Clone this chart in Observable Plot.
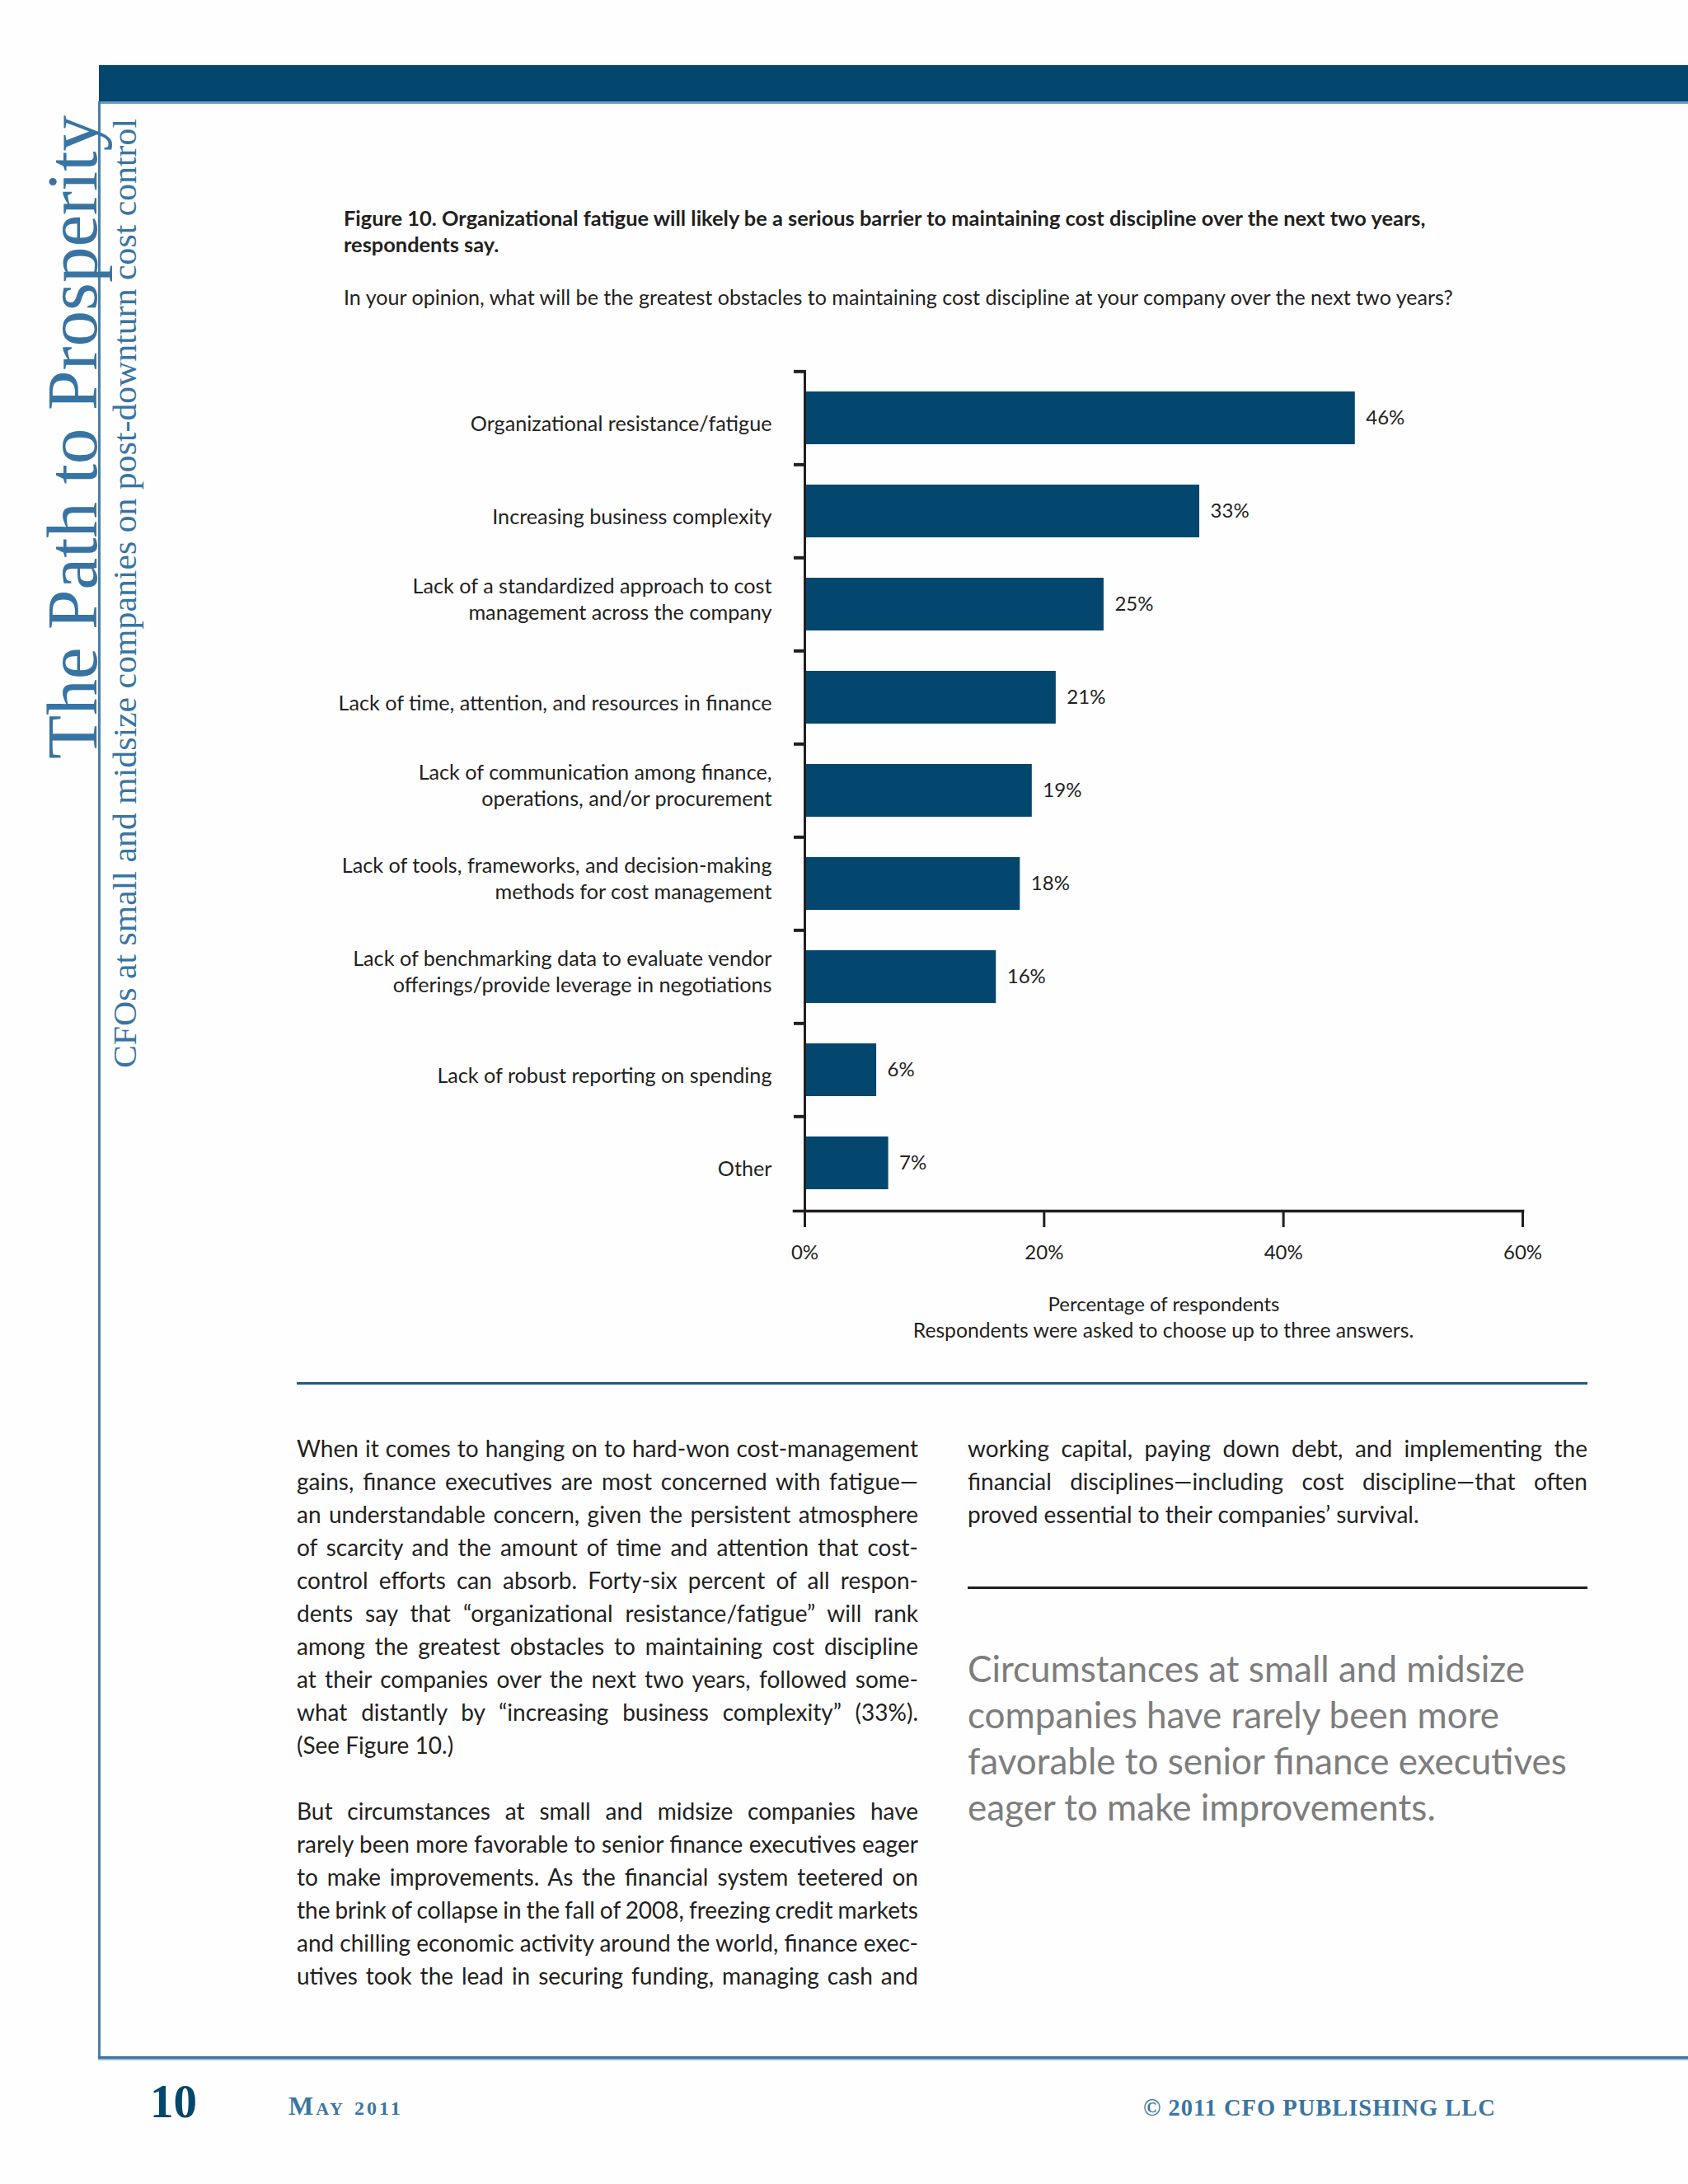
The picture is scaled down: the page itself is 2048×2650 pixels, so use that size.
<!DOCTYPE html>
<html>
<head>
<meta charset="utf-8">
<script src="https://cdn.jsdelivr.net/npm/d3@7"></script>
<script src="https://cdn.jsdelivr.net/npm/@observablehq/plot@0.6"></script>
<style>
  html, body { margin: 0; padding: 0; background: #fefefe; }
  body { width: 2048px; height: 2650px; position: relative; overflow: hidden; font-family: Lato, "Open Sans", sans-serif; color: #231f20; }
  .abs { position: absolute; }
  .line { white-space: pre; }
  #title { left: 417px; top: 248px; font-size: 25.4px; font-weight: bold; line-height: 32px; }
  #question { left: 417px; top: 344px; font-size: 25.1px; line-height: 32px; }
  #chart { left: 360px; top: 420px; }
  #note { left: 976px; width: 871px; top: 1598px; font-size: 24.7px; line-height: 32px; text-align: center; }
  #col1 { left: 360px; top: 1737px; width: 754px; font-size: 28px; line-height: 40px; }
  #col2 { left: 1174px; top: 1737px; width: 752px; font-size: 28px; line-height: 40px; }
  #quote { left: 1174px; top: 1996px; font-size: 44px; line-height: 56px; color: #7d7d7d; }
  .footer { font-family: "Liberation Serif", serif; font-weight: bold; white-space: nowrap; }
</style>
</head>
<body>
<!-- page frame -->
<div class="abs" style="left:120px;top:79px;width:1928px;height:44px;background:#03466e"></div>
<div class="abs" style="left:120px;top:123px;width:1928px;height:3px;background:#6b9cc3"></div>
<div class="abs" style="left:119px;top:123px;width:3px;height:2376px;background:#4a7fa8"></div>
<div class="abs" style="left:119px;top:2495px;width:1929px;height:3px;background:#3f749e"></div>
<div class="abs" style="left:119px;top:2498px;width:1929px;height:2px;background:#9dbdd6"></div>
<div class="abs" style="left:360px;top:1677px;width:1566px;height:3px;background:#1f5a85"></div>
<div class="abs" style="left:1174px;top:1925px;width:752px;height:3px;background:#231f20"></div>

<svg class="abs" style="left:0;top:0" width="300" height="1400">
  <text transform="translate(117,921) rotate(-90)" font-family="Liberation Serif, serif" font-size="86" fill="#3874a3" textLength="781" lengthAdjust="spacingAndGlyphs">The Path to Prosperity</text>
  <text transform="translate(165,1296) rotate(-90)" font-family="Liberation Serif, serif" font-size="41" fill="#3874a3" textLength="1152" lengthAdjust="spacingAndGlyphs">CFOs at small and midsize companies on post-downturn cost control</text>
</svg>

<div id="title" class="abs"></div>
<div id="question" class="abs"></div>
<div id="chart" class="abs"></div>
<div id="note" class="abs">Respondents were asked to choose up to three answers.</div>
<div id="col1" class="abs"></div>
<div id="col2" class="abs"></div>
<div id="quote" class="abs"></div>

<div class="abs footer" style="left:182px;top:2518px;font-size:57px;line-height:64px;color:#03466e">10</div>
<div class="abs footer" style="left:350px;top:2535px;font-size:32px;line-height:40px;color:#3a75a2;font-variant:small-caps;letter-spacing:3px">May <span style="font-size:24px">2011</span></div>
<div class="abs footer" style="left:1387px;top:2540px;font-size:28.5px;line-height:36px;color:#3a75a2;letter-spacing:1px">© 2011 CFO PUBLISHING LLC</div>

<script>
// ---- chart data ----
const categories = [
  "Organizational resistance/fatigue",
  "Increasing business complexity",
  "Lack of a standardized approach to cost\nmanagement across the company",
  "Lack of time, attention, and resources in finance",
  "Lack of communication among finance,\noperations, and/or procurement",
  "Lack of tools, frameworks, and decision-making\nmethods for cost management",
  "Lack of benchmarking data to evaluate vendor\nofferings/provide leverage in negotiations",
  "Lack of robust reporting on spending",
  "Other"
];
const values = [46, 33, 25, 21, 19, 18, 16, 6, 7];
const xTicks = [0, 20, 40, 60];
const xLabel = "Percentage of respondents";

// ---- page text ----
const titleLines = [
  "Figure 10. Organizational fatigue will likely be a serious barrier to maintaining cost discipline over the next two years,",
  "respondents say."
];
const questionText = "In your opinion, what will be the greatest obstacles to maintaining cost discipline at your company over the next two years?";
const col1Lines = [
  ["When it comes to hanging on to hard-won cost-management", 1],
  ["gains, finance executives are most concerned with fatigue\u2014", 1],
  ["an understandable concern, given the persistent atmosphere", 1],
  ["of scarcity and the amount of time and attention that cost-", 1],
  ["control efforts can absorb. Forty-six percent of all respon-", 1],
  ["dents say that \u201corganizational resistance/fatigue\u201d will rank", 1],
  ["among the greatest obstacles to maintaining cost discipline", 1],
  ["at their companies over the next two years, followed some-", 1],
  ["what distantly by \u201cincreasing business complexity\u201d (33%).", 1],
  ["(See Figure 10.)", 0],
  ["", 0],
  ["But circumstances at small and midsize companies have", 1],
  ["rarely been more favorable to senior finance executives eager", 1],
  ["to make improvements. As the financial system teetered on", 1],
  ["the brink of collapse in the fall of 2008, freezing credit markets", 1],
  ["and chilling economic activity around the world, finance exec-", 1],
  ["utives took the lead in securing funding, managing cash and", 1]
];
const col2Lines = [
  ["working capital, paying down debt, and implementing the", 1],
  ["financial disciplines\u2014including cost discipline\u2014that often", 1],
  ["proved essential to their companies\u2019 survival.", 0]
];
const quoteLines = [
  "Circumstances at small and midsize",
  "companies have rarely been more",
  "favorable to senior finance executives",
  "eager to make improvements."
];

function fillLines(el, lines, width) {
  lines.forEach(([t, j]) => {
    const d = document.createElement("div");
    d.className = "line";
    const s = document.createElement("span");
    s.textContent = t || "\u00a0";
    d.appendChild(s);
    el.appendChild(d);
    if (j && width) {
      const w = s.getBoundingClientRect().width;
      const n = (t.match(/ /g) || []).length;
      if (n) s.style.wordSpacing = ((width - w) / n) + "px";
    }
  });
}
fillLines(document.getElementById("title"), titleLines.map(t => [t, 0]));
fillLines(document.getElementById("question"), [[questionText, 0]]);
fillLines(document.getElementById("col1"), col1Lines, 754);
fillLines(document.getElementById("col2"), col2Lines, 752);
fillLines(document.getElementById("quote"), quoteLines.map(t => [t, 0]));

// ---- chart ----
const data = categories.map((label, i) => ({label, value: values[i]}));
const W = 1566, H = 1180, mT = 29, mB = 131, mL = 616, mR = 79;
const pad = 0.435;
const step = (H - mT - mB) / categories.length;
const barColor = "#03466e";
const ink = "#231f20";
const isMulti = d => d.includes("\n");

const chart = Plot.plot({
  width: W,
  height: H,
  marginTop: mT,
  marginBottom: mB,
  marginLeft: mL,
  marginRight: mR,
  style: {fontFamily: "Lato, 'Open Sans', sans-serif", fontSize: "24px", color: ink, background: "transparent"},
  x: {domain: [0, 60], ticks: xTicks},
  y: {domain: categories, paddingInner: pad, paddingOuter: pad / 2},
  marks: [
    Plot.barX(data, {x: "value", y: "label", fill: barColor}),
    Plot.text(data, {x: "value", y: "label", text: d => `${d.value}%`, textAnchor: "start", dx: 13, fontSize: 24}),
    Plot.ruleX([0], {strokeWidth: 3, stroke: ink}),
    Plot.frame({anchor: "bottom", insetLeft: -13, strokeWidth: 3.5, stroke: ink}),
    // category labels: single-line and two-line labels sit slightly differently
    Plot.axisY({tickSize: 0, tickPadding: 40, label: null, fontSize: 25.2, dy: 7,
                tickFormat: d => isMulti(d) ? "" : d}),
    Plot.axisY({tickSize: 0, tickPadding: 40, label: null, fontSize: 25.2, dy: -8, lineHeight: 32 / 25.2,
                tickFormat: d => isMulti(d) ? d : ""}),
    // tick marks at the category boundaries
    Plot.axisY({tickSize: 13, fill: "none", strokeWidth: 4, stroke: ink, dy: -step / 2, label: null}),
    Plot.axisX({ticks: xTicks, tickFormat: d => `${d}%`, tickSize: 20, tickPadding: 21, strokeWidth: 3, stroke: ink,
                fontSize: 24, label: xLabel, labelAnchor: "center", labelArrow: "none", labelOffset: 121})
  ]
});
document.getElementById("chart").appendChild(chart);
</script>
</body>
</html>
